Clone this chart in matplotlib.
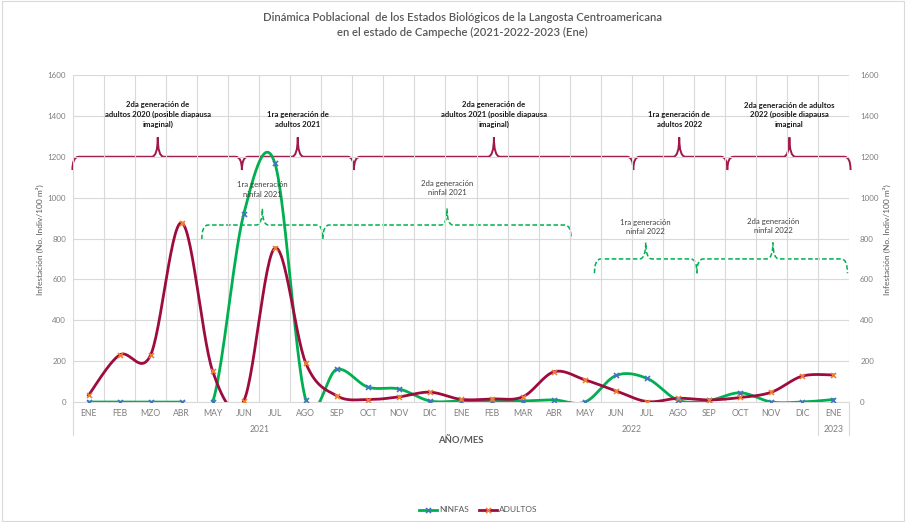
import numpy as np
import matplotlib
matplotlib.use("Agg")
import matplotlib.pyplot as plt
from matplotlib.path import Path
from matplotlib.patches import PathPatch, Rectangle
from matplotlib.transforms import blended_transform_factory
from matplotlib.lines import Line2D

plt.rcParams['font.family'] = ['Lato', 'DejaVu Sans']

meses = ['ENE', 'FEB', 'MZO', 'ABR', 'MAY', 'JUN', 'JUL', 'AGO', 'SEP', 'OCT', 'NOV', 'DIC',
         'ENE', 'FEB', 'MAR', 'ABR', 'MAY', 'JUN', 'JUL', 'AGO', 'SEP', 'OCT', 'NOV', 'DIC',
         'ENE']
anios = ['2021', '2022', '2023']
anio_n = [12, 12, 1]

ninfas = [0, 0, 0, 0, 0, 920, 1170, 10, 160, 73, 64, 5,
          5, 5, 5, 10, 0, 130, 115, 8, 8, 45, 0, 0, 12]
adultos = [33, 230, 230, 877, 150, 5, 753, 190, 30, 12, 25, 48,
           13, 15, 26, 148, 108, 54, 2, 18, 10, 22, 48, 127, 132]

# llaves de generaciones (inicio, fin, punta en indice de mes) y textos
gen_adultos = [(-0.52, 4.94, 2.23), (4.94, 8.55, 6.74), (8.55, 17.55, 13.06),
               (17.55, 20.58, 19.03), (20.58, 24.55, 22.58)]
txt_adultos = ['2da generación de\nadultos 2020 (posible diapausa\nimaginal)',
               '1ra generación de\nadultos 2021',
               '2da generación de\nadultos 2021 (posible diapausa\nimaginal)',
               '1ra generación de\nadultos 2022',
               '2da generación de adultos\n2022 (posible diapausa\nimaginal']
gen_ninfas = [(3.65, 7.55, 5.6, 866, 1040), (7.55, 15.55, 11.55, 866, 1045),
              (16.3, 19.6, 17.95, 700, 855), (19.6, 24.45, 22.05, 700, 863)]
txt_ninfas = ['1ra generación\nninfal 2021', '2da generación\nninfal 2021',
              '1ra generación\nninfal 2022', '2da generación\nninfal 2022']


def suave(y, n=30):
    # curva suavizada tipo Excel (Catmull-Rom)
    y = np.asarray(y, float)
    x = np.arange(len(y), dtype=float)
    P = np.column_stack([x, y])
    P = np.vstack([P[0], P, P[-1]])
    out = []
    t = np.linspace(0, 1, n)[:, None]
    for i in range(1, len(P) - 2):
        p0, p1, p2, p3 = P[i - 1], P[i], P[i + 1], P[i + 2]
        c1 = p1 + (p2 - p0) / 6
        c2 = p2 - (p3 - p1) / 6
        seg = (1 - t) ** 3 * p1 + 3 * (1 - t) ** 2 * t * c1 + 3 * (1 - t) * t ** 2 * c2 + t ** 3 * p2
        out.append(seg if i == 1 else seg[1:])
    s = np.vstack(out)
    return s[:, 0], s[:, 1]


def llave(ax, x0, x1, xm, y, h, d, r, **kw):
    verts = [(x0, y - d), (x0, y), (x0 + r, y),
             (xm - r, y), (xm, y), (xm, y + h),
             (xm, y), (xm + r, y),
             (x1 - r, y), (x1, y), (x1, y - d)]
    codes = [Path.MOVETO, Path.CURVE3, Path.CURVE3,
             Path.LINETO, Path.CURVE3, Path.CURVE3,
             Path.CURVE3, Path.CURVE3,
             Path.LINETO, Path.CURVE3, Path.CURVE3]
    ax.add_patch(PathPatch(Path(verts, codes), fill=False, clip_on=False, **kw))


fig = plt.figure(figsize=(9.06, 5.22), dpi=100)
ax = fig.add_axes([0.0806, 0.2299, 0.8565, 0.6264])
x = np.arange(len(meses))

ax.set_xlim(-0.5, len(meses) - 0.5)
ax.set_ylim(0, 1600)
ax.set_yticks(range(0, 1601, 200))
ax.set_xticks(x)
ax.set_xticklabels(meses)
ax.set_xticks(np.arange(-0.5, len(meses), 1), minor=True)
ax.grid(True, which='minor', axis='x', color='#d9d9d9', lw=0.8)
ax.grid(True, which='major', axis='y', color='#d9d9d9', lw=0.8)
ax.tick_params(axis='both', which='both', length=0, labelsize=6.2, colors='#7f7f7f', pad=5)
ax.tick_params(axis='y', labelsize=5.8, pad=5)
for s in ax.spines.values():
    s.set_visible(False)
ax.spines['bottom'].set_visible(True)
ax.spines['bottom'].set_color('#d9d9d9')

ax2 = ax.twinx()
ax2.set_ylim(0, 1600)
ax2.set_yticks(range(0, 1601, 200))
ax2.tick_params(axis='y', length=0, labelsize=5.8, colors='#7f7f7f', pad=8)
for s in ax2.spines.values():
    s.set_visible(False)

xs, ys = suave(ninfas)
ax.plot(xs, ys, color='#00b050', lw=2.0, zorder=3)
ax.plot(x, ninfas, ls='none', marker='x', ms=3.6, mew=1.2, color='#4472c4', zorder=4)
xs, ys = suave(adultos)
ax.plot(xs, ys, color='#9e0b3f', lw=2.0, zorder=3)
ax.plot(x, adultos, ls='none', marker='x', ms=3.6, mew=1.2, color='#ed7d31', zorder=4)

# llaves de adultos
for (a, b, m), t in zip(gen_adultos, txt_adultos):
    llave(ax, a, b, m, 1200, 95, 65, 0.2, color='#a0174a', lw=1.4)
    ax.text(m, 1340, t, ha='center', va='bottom', fontsize=5.6, fontweight='bold',
            color='#1a1a1a', linespacing=1.45)

# llaves de ninfas
for (a, b, m, yb, yt), t in zip(gen_ninfas, txt_ninfas):
    llave(ax, a, b, m, yb, 80, 70, 0.2, color='#00b050', lw=1.1, ls=(0, (3, 1.6)))
    ax.text(m, yt, t, ha='center', va='center', fontsize=5.6,
            color='#404040', linespacing=1.35)

# eje de categorias agrupado por anio
tr = blended_transform_factory(ax.transData, ax.transAxes)
ini = -0.5
bordes = [ini]
for a, n in zip(anios, anio_n):
    ax.text(ini + n / 2, -0.085, a, transform=tr, ha='center', va='center',
            fontsize=6.2, color='#7f7f7f')
    ini += n
    bordes.append(ini)
for b in bordes:
    ax.plot([b, b], [0, -0.1], transform=tr, color='#d9d9d9', lw=0.8, clip_on=False)

ax.text(0.5, -0.119, 'AÑO/MES', transform=ax.transAxes, ha='center', va='center',
        fontsize=6.8, fontweight='bold', color='#595959')

fig.text(40 / 906, 1 - 240 / 522, 'Infestación (No. Indiv/100 m²)', rotation=90,
         ha='center', va='center', fontsize=6, color='#595959')
fig.text(887 / 906, 1 - 240 / 522, 'Infestación (No. Indiv/100 m²)', rotation=90,
         ha='center', va='center', fontsize=6, color='#595959')

fig.text(462 / 906, 1 - 25 / 522,
         'Dinámica Poblacional  de los Estados Biológicos de la Langosta Centroamericana\n'
         'en el estado de Campeche (2021-2022-2023 (Ene)',
         ha='center', va='center', fontsize=8.1, color='#595959', fontweight='semibold',
         linespacing=1.55)

h1 = Line2D([], [], color='#00b050', lw=2, marker='x', ms=3.6, mew=1.2, mec='#4472c4')
h2 = Line2D([], [], color='#9e0b3f', lw=2, marker='x', ms=3.6, mew=1.2, mec='#ed7d31')
fig.legend([h1, h2], ['NINFAS', 'ADULTOS'], loc='center', bbox_to_anchor=(478 / 906, 1 - 510 / 522),
           ncol=2, frameon=False, fontsize=6, handlelength=2.2, columnspacing=1.2,
           handletextpad=0.2, labelcolor='#595959')

fig.patches.append(Rectangle((0.002, 0.002), 0.996, 0.996, transform=fig.transFigure,
                             fill=False, ec='#d9d9d9', lw=0.8))

fig.savefig('out.png', dpi=100)
